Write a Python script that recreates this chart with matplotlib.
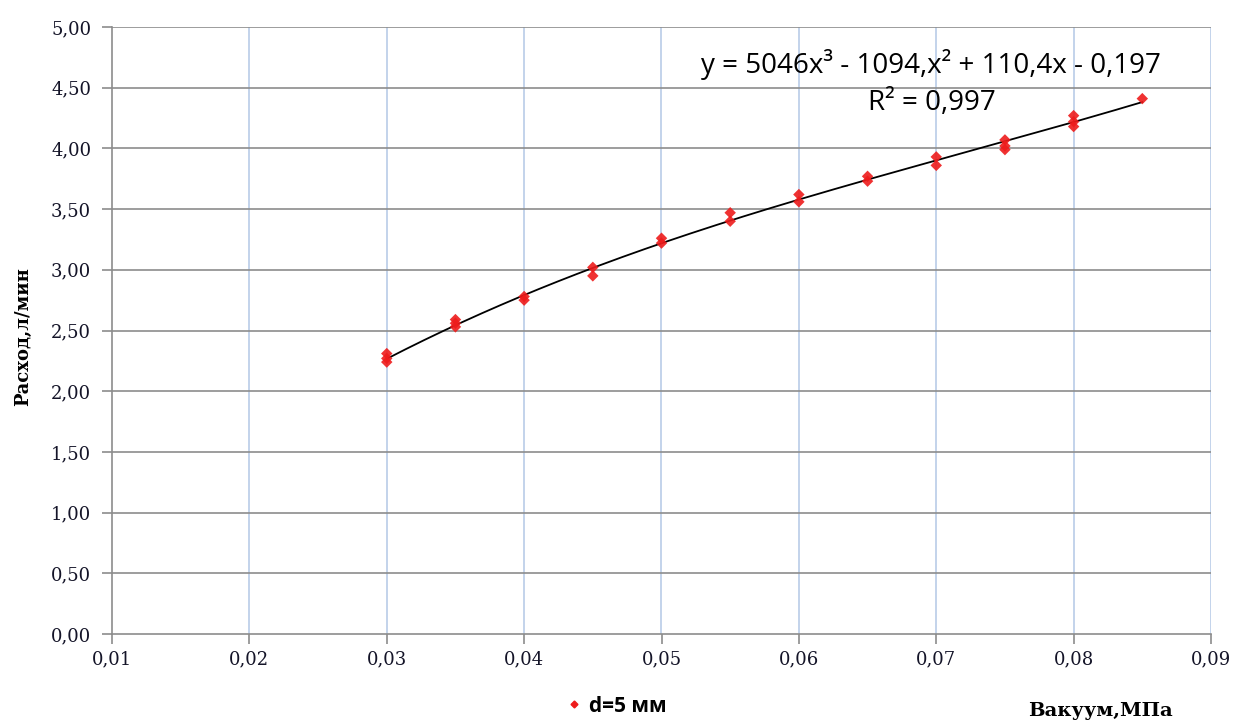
import matplotlib
matplotlib.use("Agg")
import matplotlib.pyplot as plt
import numpy as np
from matplotlib.ticker import FuncFormatter, MultipleLocator
from matplotlib.lines import Line2D

# Data
vacuum = [0.030, 0.030, 0.030,
          0.035, 0.035, 0.035,
          0.040, 0.040,
          0.045, 0.045,
          0.050, 0.050,
          0.055, 0.055,
          0.060, 0.060,
          0.065, 0.065,
          0.070, 0.070,
          0.075, 0.075, 0.075,
          0.080, 0.080, 0.080,
          0.085]
flow = [2.31, 2.27, 2.24,
        2.59, 2.56, 2.53,
        2.78, 2.75,
        3.02, 2.95,
        3.26, 3.22,
        3.47, 3.40,
        3.62, 3.56,
        3.77, 3.73,
        3.93, 3.86,
        4.07, 4.02, 3.99,
        4.27, 4.22, 4.18,
        4.41]
trend_coeffs = [5046, -1094, 110.4, -0.197]  # cubic trendline shown on chart
equation_text = "y = 5046x³ - 1094,x² + 110,4x - 0,197"
r2_text = "R² = 0,997"
series_label = "d=5 мм"
x_label = "Вакуум,МПа"
y_label = "Расход,л/мин"

W, H = 1235, 722
fig = plt.figure(figsize=(W/100, H/100), dpi=100)
ax = fig.add_axes([112/W, 88/H, (1211-112)/W, (634-27)/H])

ax.set_xlim(0.01, 0.09)
ax.set_ylim(0, 5)
ax.xaxis.set_major_locator(MultipleLocator(0.01))
ax.yaxis.set_major_locator(MultipleLocator(0.5))
ax.xaxis.set_major_formatter(FuncFormatter(lambda v, p: f"{v:.2f}".replace(".", ",")))
ax.yaxis.set_major_formatter(FuncFormatter(lambda v, p: f"{v:.2f}".replace(".", ",")))

for xv in np.arange(0.02, 0.0901, 0.01):
    ax.axvline(xv, color="#b9cce8", lw=1.2, zorder=0)
for yv in np.arange(0.5, 5.01, 0.5):
    ax.axhline(yv, color="#8c8c8c", lw=1.2, zorder=0)

for s in ["top", "right"]:
    ax.spines[s].set_visible(False)
for s in ["left", "bottom"]:
    ax.spines[s].set_color("#8c8c8c")
    ax.spines[s].set_linewidth(1.2)

ax.tick_params(axis="y", direction="out", length=7, width=1.2, color="#8c8c8c",
               labelsize=13, pad=8)
ax.tick_params(axis="x", direction="out", length=7, width=1.2, color="#8c8c8c",
               labelsize=13, pad=5)
for lab in ax.get_xticklabels() + ax.get_yticklabels():
    lab.set_family("DejaVu Serif")
    lab.set_color("#141428")
    lab.set_fontweight("medium")

xx = np.linspace(min(vacuum), max(vacuum), 200)
ax.plot(xx, np.polyval(trend_coeffs, xx), color="black", lw=1.3, zorder=2)
ax.scatter(vacuum, flow, marker="D", s=34, color="#ee1c1c", edgecolors="none", zorder=3, alpha=0.9)

fig.text(931/W, 1 - 64/H, equation_text, ha="center", va="center",
         fontsize=20, family="Open Sans", color="black")
fig.text(932/W, 1 - 103/H, r2_text, ha="center", va="center",
         fontsize=20, family="Open Sans", color="black")

fig.text(23/W, 1 - 337/H, y_label, rotation=90, ha="center", va="center",
         family="DejaVu Serif", fontweight="bold", fontsize=13)
fig.text(1100/W, 1 - 711/H, x_label, ha="center", va="center",
         family="DejaVu Serif", fontweight="bold", fontsize=14)

handle = Line2D([], [], marker="D", color="#ee1c1c", ls="none", markersize=3.5)
fig.legend([handle], [series_label], loc="center", bbox_to_anchor=(616/W, 1 - 706/H),
           frameon=False, prop={"family": "Open Sans", "weight": "bold", "size": 15},
           handletextpad=0.3, handlelength=0.8)

fig.savefig("out.png", dpi=100)
